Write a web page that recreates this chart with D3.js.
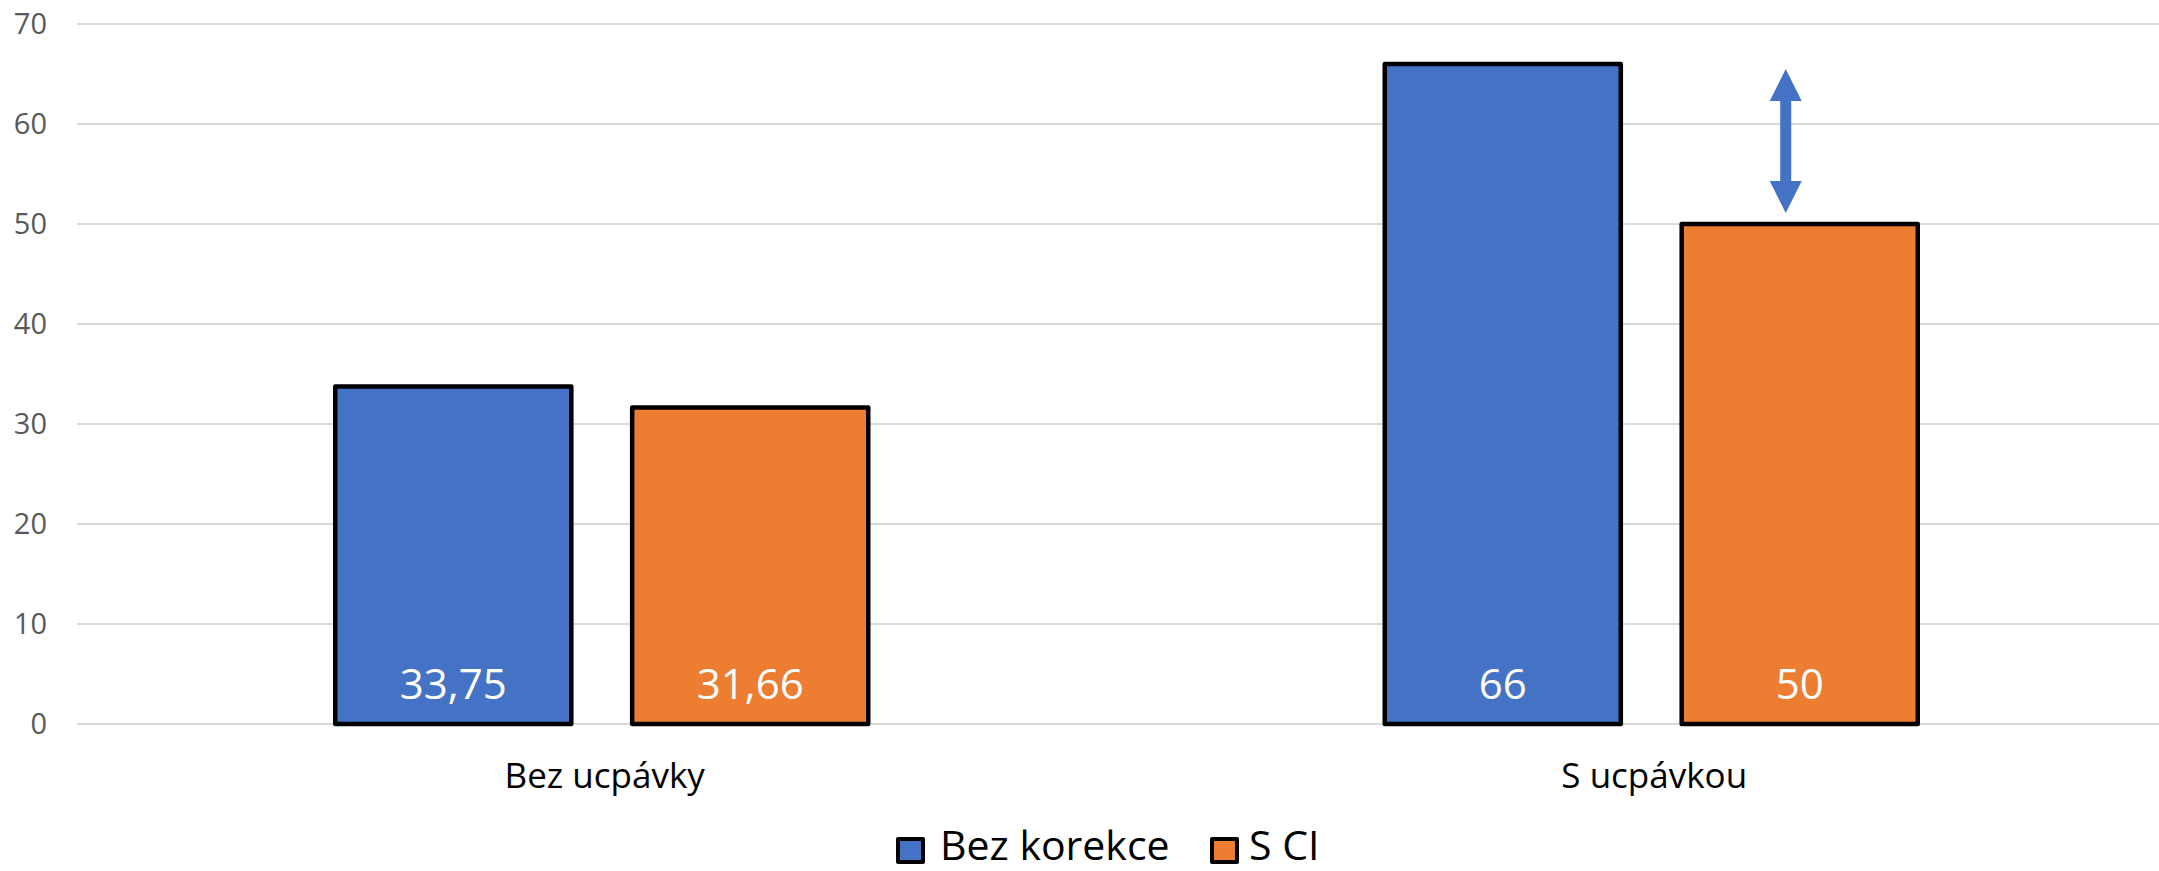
<!DOCTYPE html>
<html lang="cs">
<head>
    <meta charset="UTF-8">
    <title>Bez ucpávky / S ucpávkou</title>
    <style>
        body {
            margin: 0;
            background-color: #FFFFFF;
            font-family: "Open Sans", "Noto Sans", sans-serif;
        }
        svg { display: block; }
    </style>
</head>
<body>
    <div id="chart"></div>

    <script src="https://cdn.jsdelivr.net/npm/d3@7"></script>
    <script>
        // Data
        const categories = ["Bez ucpávky", "S ucpávkou"];
        const seriesNames = ["Bez korekce", "S CI"];
        const bezKorekce = [33.75, 66];
        const sCI = [31.66, 50];
        const yTicks = [0, 10, 20, 30, 40, 50, 60, 70];
        const colors = ["#4472C4", "#ED7D31"];

        // difference arrow (annotation) between the two bars of "S ucpávkou"
        const arrowFrom = 65.5;
        const arrowTo = 51.1;

        const width = 2159;
        const height = 871;

        const svg = d3.select("#chart")
            .append("svg")
            .attr("width", width)
            .attr("height", height);

        const y = d3.scaleLinear()
            .domain([0, 70])
            .range([724, 24]);

        const x0 = d3.scaleBand()
            .domain(categories)
            .range([77, 2176])
            .padding(0);

        const groupW = 533;
        const x1 = d3.scaleBand()
            .domain(seriesNames)
            .range([x0.bandwidth() / 2 - groupW / 2, x0.bandwidth() / 2 + groupW / 2])
            .paddingInner(0.205)
            .paddingOuter(0);

        // Gridlines
        svg.append("g")
            .selectAll("line")
            .data(yTicks)
            .join("line")
            .attr("x1", 77)
            .attr("x2", width)
            .attr("y1", d => y(d))
            .attr("y2", d => y(d))
            .attr("stroke", "#D9D9D9")
            .attr("stroke-width", 2);

        // Y axis labels
        svg.append("g")
            .selectAll("text")
            .data(yTicks)
            .join("text")
            .attr("x", 47)
            .attr("y", d => y(d))
            .attr("dy", "0.35em")
            .attr("text-anchor", "end")
            .attr("font-size", "29px")
            .attr("fill", "#595959")
            .text(d => d);

        // Bars
        const rows = categories.map((c, i) => ({
            cat: c,
            values: [
                { name: seriesNames[0], value: bezKorekce[i], color: colors[0] },
                { name: seriesNames[1], value: sCI[i], color: colors[1] }
            ]
        }));

        const groups = svg.append("g")
            .selectAll("g")
            .data(rows)
            .join("g")
            .attr("transform", d => `translate(${x0(d.cat)},0)`);

        groups.selectAll("rect")
            .data(d => d.values)
            .join("rect")
            .attr("x", d => x1(d.name))
            .attr("y", d => y(d.value))
            .attr("width", x1.bandwidth())
            .attr("height", d => y(0) - y(d.value))
            .attr("fill", d => d.color)
            .attr("stroke", "#000000")
            .attr("stroke-width", 4.5)
            .attr("stroke-linejoin", "round");

        // Data labels (inside base)
        groups.selectAll("text.val")
            .data(d => d.values)
            .join("text")
            .attr("class", "val")
            .attr("x", d => x1(d.name) + x1.bandwidth() / 2)
            .attr("y", y(0) - 25)
            .attr("text-anchor", "middle")
            .attr("font-size", "42px")
            .attr("fill", "#FFFFFF")
            .text(d => String(d.value).replace(".", ","));

        // Category labels
        svg.append("g")
            .selectAll("text")
            .data(categories)
            .join("text")
            .attr("x", d => x0(d) + x0.bandwidth() / 2 + 3)
            .attr("y", 788)
            .attr("text-anchor", "middle")
            .attr("font-size", "35px")
            .attr("fill", "#000000")
            .text(d => d);

        // Arrow annotation
        const ax = x0(categories[1]) + x1(seriesNames[1]) + x1.bandwidth() / 2 - 14;
        const yTop = y(arrowFrom);
        const yBot = y(arrowTo);
        const headL = 32, headW = 16, shaft = 5.5;
        const arrowPath = [
            [ax, yTop],
            [ax + headW, yTop + headL],
            [ax + shaft, yTop + headL],
            [ax + shaft, yBot - headL],
            [ax + headW, yBot - headL],
            [ax, yBot],
            [ax - headW, yBot - headL],
            [ax - shaft, yBot - headL],
            [ax - shaft, yTop + headL],
            [ax - headW, yTop + headL]
        ];
        svg.append("path")
            .attr("d", d3.line()(arrowPath) + "Z")
            .attr("fill", colors[0]);

        // Legend
        const legendX = [898, 1212];
        const legend = svg.append("g")
            .selectAll("g")
            .data(seriesNames)
            .join("g")
            .attr("transform", (d, i) => `translate(${legendX[i]},0)`);

        legend.append("rect")
            .attr("x", 0)
            .attr("y", 839)
            .attr("width", 25)
            .attr("height", 23)
            .attr("fill", (d, i) => colors[i])
            .attr("stroke", "#000000")
            .attr("stroke-width", 4)
            .attr("stroke-linejoin", "round");

        legend.append("text")
            .attr("x", (d, i) => i === 0 ? 42 : 37)
            .attr("y", 860)
            .attr("font-size", "41px")
            .attr("fill", "#000000")
            .text(d => d);
    </script>
</body>
</html>
